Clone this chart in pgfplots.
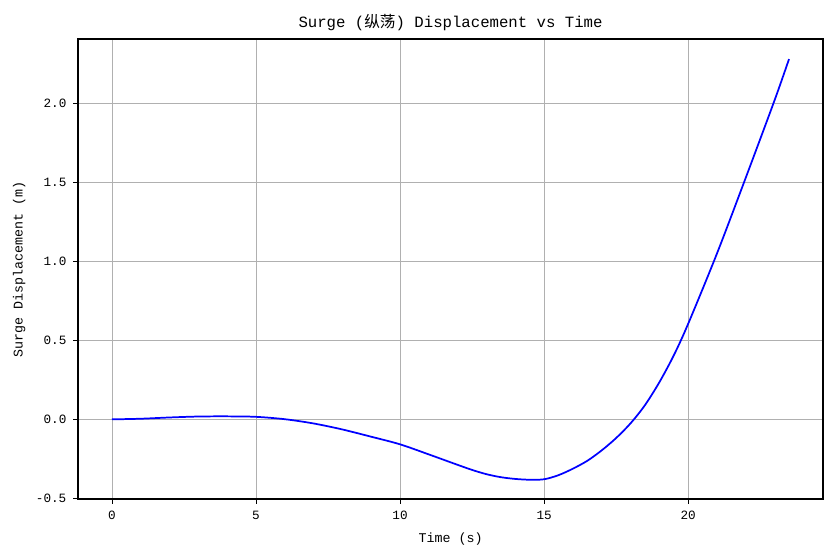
\documentclass[border=0pt]{standalone}
\usepackage{pgfplots}
\pgfplotsset{compat=1.18}
\usepackage{fontspec}
\setmainfont{Liberation Mono}
\newfontfamily\cjk{Noto Sans CJK SC}

\definecolor{gridgray}{RGB}{176,176,176}

\begin{document}
\begin{tikzpicture}
\path[use as bounding box] (-58.5pt,-44.25pt) rectangle (567pt,374.25pt);
\begin{axis}[
    at={(0pt,0pt)}, anchor=south west,
    scale only axis,
    width=558.75pt,
    height=345pt,
    xmin=-1.18, xmax=24.68,
    ymin=-0.504, ymax=2.407,
    xtick={0,5,10,15,20},
    ytick={-0.5,0,0.5,1,1.5,2},
    tick pos=left,
    tick align=outside,
    major tick length=3.7pt,
    every tick/.style={black, line width=0.6pt},
    grid=major,
    major grid style={gridgray, line width=0.6pt},
    axis line style={line width=0.8pt},
    /pgf/number format/assume math mode=true,
    ticklabel style={font=\fontsize{9.5}{11}\selectfont},
    xticklabel style={yshift=-2pt},
    yticklabel style={xshift=-1.5pt, /pgf/number format/.cd, fixed, fixed zerofill, precision=1},
    title={Surge ({\cjk 纵荡}) Displacement vs Time},
    title style={font=\fontsize{11.75}{14}\selectfont, at={(0.5,1)}, anchor=center, yshift=6.5pt},
    xlabel={Time (s)},
    ylabel={Surge Displacement (m)},
    label style={font=\fontsize{10}{12}\selectfont},
    xlabel style={at={(axis description cs:0.5,-0.087)}, anchor=center},
    ylabel style={at={(axis description cs:-0.0788,0.5)}, anchor=center},
]
\addplot[blue, line width=1.3pt, smooth] coordinates {
    (0,0) (1,0.004) (2,0.012) (3,0.018) (4,0.019) (5,0.016)
    (6,0.001) (7,-0.026) (8,-0.064) (9,-0.11) (10,-0.158)
    (11,-0.222) (12,-0.288) (12.5,-0.32) (13,-0.347) (13.5,-0.366)
    (14,-0.377) (14.5,-0.382) (15,-0.379) (15.5,-0.353) (16,-0.312)
    (16.5,-0.262) (17,-0.196) (17.5,-0.118) (18,-0.025) (18.5,0.09)
    (19,0.235) (19.5,0.405) (20,0.605) (21,1.05) (22,1.53) (23,2.02) (23.5,2.28)
};
\end{axis}
\end{tikzpicture}
\end{document}
